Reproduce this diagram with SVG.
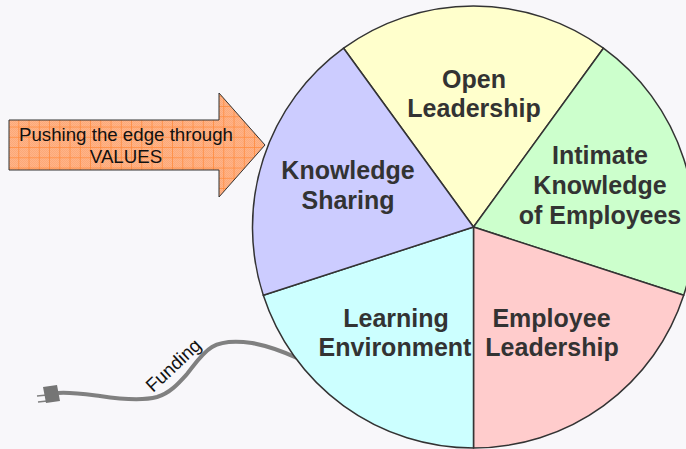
<svg xmlns="http://www.w3.org/2000/svg" width="686" height="449" viewBox="0 0 686 449">
<style>
.w{stroke:#333;stroke-width:1.5;stroke-linejoin:round}
.t{font-family:"Liberation Sans",Arial,sans-serif;font-weight:700;font-size:25px;fill:#333;text-anchor:middle}
.a{font-family:"Liberation Sans",Arial,sans-serif;font-size:18.7px;fill:#111;text-anchor:middle}
</style>
<defs>
<pattern id="dither" width="2" height="2" patternUnits="userSpaceOnUse">
<rect width="2" height="2" fill="#ffb488"/><rect width="1" height="1" fill="#fca878"/><rect x="1" y="1" width="1" height="1" fill="#fca878"/>
</pattern>
<pattern id="grid" x="9" y="4.5" width="10.25" height="10.25" patternUnits="userSpaceOnUse">
<path d="M10 0V10.25M0 10H10.25" stroke="#ff8a3c" stroke-width="1" fill="none"/>
</pattern>
</defs>
<rect width="686" height="449" fill="#f8f7fa"/>
<g id="connectors">
<path d="M58 393C70 392 84 394 100 396C120 399 142 401 157 397C170 393 178 384 187 374C195 364 202 353 212 347C222 341 238 341 252 343C268 346 282 351 297 358" fill="none" stroke="#808080" stroke-width="4"/>
<path d="M37 396L47 395M38 402L47 401" stroke="#808080" stroke-width="1.5" fill="none"/>
<path d="M43 387L57 385L60 401L46 403Z" fill="#757575"/>
<text transform="translate(153 393) rotate(-43)" font-family="Liberation Sans,Arial,sans-serif" font-size="18.7" fill="#111">Funding</text>
</g>
<g id="arrow">
<path d="M9 120H219V93L265 145L219 197V170H9Z" fill="url(#dither)"/>
<path d="M9 120H219V93L265 145L219 197V170H9Z" fill="url(#grid)" stroke="#333" stroke-width="1"/>
<text class="a" x="126" y="141">Pushing the edge through</text>
<text class="a" x="126" y="163">VALUES</text>
</g>
<g id="open-leadership">
<path class="w" d="M473.5 227L343.6 48.2A221 221 0 0 1 603.4 48.2Z" fill="#ffffcc"/>
<text class="t" x="474" y="88">Open</text><text class="t" x="474" y="117">Leadership</text>
</g>
<g id="intimate-knowledge">
<path class="w" d="M473.5 227L603.4 48.2A221 221 0 0 1 683.7 295.3Z" fill="#ccffcc"/>
<text class="t" x="600" y="164">Intimate</text><text class="t" x="600" y="194">Knowledge</text><text class="t" x="600" y="224">of Employees</text>
</g>
<g id="employee-leadership">
<path class="w" d="M473.5 227L683.7 295.3A221 221 0 0 1 473.5 448Z" fill="#ffcccc"/>
<text class="t" x="551.5" y="327">Employee</text><text class="t" x="552" y="356">Leadership</text>
</g>
<g id="learning-environment">
<path class="w" d="M473.5 227L473.5 448A221 221 0 0 1 263.3 295.3Z" fill="#ccffff"/>
<text class="t" x="396" y="327">Learning</text><text class="t" x="395" y="356">Environment</text>
</g>
<g id="knowledge-sharing">
<path class="w" d="M473.5 227L263.3 295.3A221 221 0 0 1 343.6 48.2Z" fill="#ccccff"/>
<text class="t" x="348" y="179">Knowledge</text><text class="t" x="348" y="209">Sharing</text>
</g>
</svg>
